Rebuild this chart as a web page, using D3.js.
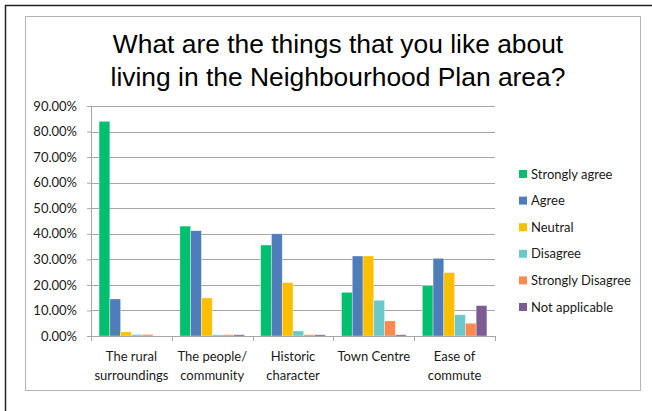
<!DOCTYPE html>
<html>
<head>
<meta charset="utf-8">
<script src="https://cdn.jsdelivr.net/npm/d3@7"></script>
<style>
  body { margin: 0; background: #fff; }
  svg { display: block; }
  .axis text { font-family: Lato, "Open Sans", sans-serif; font-size: 13px; fill: #1a1a1a; }
</style>
</head>
<body>
<svg id="chart"></svg>
<script>
const categories = [
  ['The rural', 'surroundings'],
  ['The people/', 'community'],
  ['Historic', 'character'],
  ['Town Centre'],
  ['Ease of', 'commute'],
];
const seriesNames = ['Strongly agree', 'Agree', 'Neutral', 'Disagree', 'Strongly Disagree', 'Not applicable'];
const stronglyAgree = [84.0, 43.0, 35.6, 17.1, 19.7];
const agree = [14.5, 41.2, 40.0, 31.3, 30.4];
const neutral = [1.6, 14.9, 20.9, 31.3, 24.8];
const disagree = [0.6, 0.5, 2.0, 14.0, 8.3];
const stronglyDisagree = [0.6, 0.5, 0.5, 5.9, 5.0];
const notApplicable = [0, 0.5, 0.5, 0.5, 11.9];
const yTicks = [0, 10, 20, 30, 40, 50, 60, 70, 80, 90];
const colors = ['#00bf6f', '#4f7dba', '#fbbf00', '#6dc8cb', '#fa8a4f', '#7c5c92'];

const seriesValues = [stronglyAgree, agree, neutral, disagree, stronglyDisagree, notApplicable];

const W = 652, H = 411;
const margin = { top: 106, right: 157, bottom: 75, left: 91 };
const width = W - margin.left - margin.right;
const height = H - margin.top - margin.bottom;

const svg = d3.select('#chart').attr('width', W).attr('height', H);

// outer frame
svg.append('path')
  .attr('d', `M5.5,${H} V5.5 H${W}`)
  .attr('fill', 'none')
  .attr('stroke', '#222')
  .attr('stroke-width', 1.5);
svg.append('rect')
  .attr('x', 25.5).attr('y', 16.5)
  .attr('width', 615).attr('height', 374)
  .attr('fill', 'none')
  .attr('stroke', '#b4b4b4');

// title
const title = svg.append('text')
  .attr('text-anchor', 'middle')
  .attr('font-family', '"Liberation Sans", Arial, sans-serif')
  .attr('font-size', 26.4)
  .attr('fill', '#000');
title.append('tspan').attr('x', 338).attr('y', 53).text('What are the things that you like about');
title.append('tspan').attr('x', 338).attr('y', 86).text('living in the Neighbourhood Plan area?');

const g = svg.append('g').attr('transform', `translate(${margin.left},${margin.top})`);

const x0 = d3.scaleBand().domain(d3.range(categories.length)).range([0, width]).paddingInner(0).paddingOuter(0);
const x1 = d3.scaleBand().domain(d3.range(seriesNames.length)).range([0, x0.bandwidth()]).paddingOuter(0.75).paddingInner(0);
const y = d3.scaleLinear().domain([0, 90]).range([height, 0]);

// gridlines
g.append('g')
  .selectAll('line')
  .data(yTicks.slice(1))
  .join('line')
  .attr('x1', 0).attr('x2', width)
  .attr('y1', d => Math.round(y(d)) + 0.5).attr('y2', d => Math.round(y(d)) + 0.5)
  .attr('stroke', '#a6a6a6');

// bars
g.append('g')
  .selectAll('g')
  .data(seriesValues)
  .join('g')
  .attr('fill', (d, i) => colors[i])
  .each(function (vals, si) {
    d3.select(this).selectAll('rect')
      .data(vals)
      .join('rect')
      .attr('x', (d, ci) => x0(ci) + x1(si))
      .attr('width', x1.bandwidth())
      .attr('y', d => y(d))
      .attr('height', d => height - y(d))
      .attr('stroke', d => d > 0 ? 'rgba(255,255,255,0.6)' : 'none')
      .attr('stroke-width', 0.6);
  });

// y axis
const yAxis = g.append('g')
  .attr('class', 'axis')
  .call(d3.axisLeft(y).tickValues(yTicks).tickSize(4).tickPadding(10).tickFormat(d => d.toFixed(2) + '%'));
yAxis.select('.domain').attr('stroke', '#a6a6a6').attr('d', `M-4,${height + 0.5}H0.5V0`);
yAxis.selectAll('.tick line').attr('stroke', '#a6a6a6');

// x axis
const xAxis = g.append('g')
  .attr('class', 'axis')
  .attr('transform', `translate(0,${height})`);
xAxis.append('line')
  .attr('x1', 0).attr('x2', width)
  .attr('y1', 0.5).attr('y2', 0.5)
  .attr('stroke', '#a6a6a6');
xAxis.selectAll('line.tk')
  .data(d3.range(categories.length + 1))
  .join('line')
  .attr('class', 'tk')
  .attr('x1', d => Math.round(d * x0.bandwidth()) + 0.5)
  .attr('x2', d => Math.round(d * x0.bandwidth()) + 0.5)
  .attr('y1', 0).attr('y2', 5)
  .attr('stroke', '#a6a6a6');
xAxis.selectAll('text')
  .data(categories)
  .join('text')
  .attr('text-anchor', 'middle')
  .attr('transform', (d, i) => `translate(${x0(i) + x0.bandwidth() / 2},0)`)
  .each(function (lines) {
    d3.select(this).selectAll('tspan')
      .data(lines)
      .join('tspan')
      .attr('x', 0)
      .attr('y', (d, i) => 25 + i * 18.5)
      .text(d => d);
  });

// legend
const legend = svg.append('g')
  .attr('class', 'axis')
  .attr('transform', 'translate(519,174)');
const items = legend.selectAll('g')
  .data(seriesNames)
  .join('g')
  .attr('transform', (d, i) => `translate(0,${i * 26.6})`);
items.append('rect')
  .attr('x', 0).attr('y', -4)
  .attr('width', 8).attr('height', 8)
  .attr('fill', (d, i) => colors[i]);
items.append('text')
  .attr('x', 12).attr('y', 4.5)
  .text(d => d);
</script>
</body>
</html>
